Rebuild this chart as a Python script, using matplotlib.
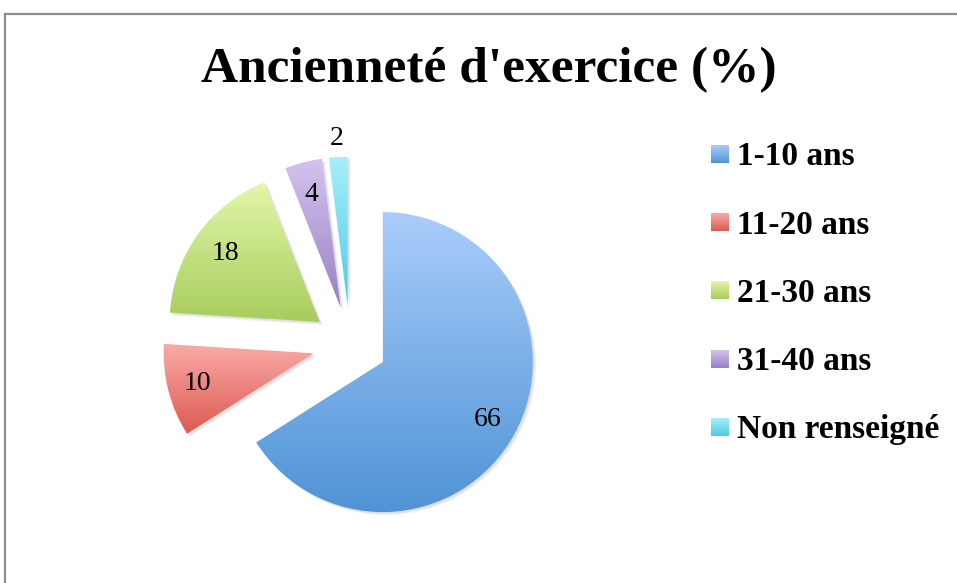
import numpy as np
import matplotlib
matplotlib.use("Agg")
import matplotlib.pyplot as plt
from matplotlib.patches import Rectangle, PathPatch
from matplotlib.path import Path
from matplotlib.colors import LinearSegmentedColormap

# Data
categories = ["1-10 ans", "11-20 ans", "21-30 ans", "31-40 ans", "Non renseigné"]
values = [66, 10, 18, 4, 2]
title = "Ancienneté d'exercice (%)"

# Gradient colours (top, bottom) for each slice
top_colors = ["#a9cdfa", "#f9aaa6", "#e2f7a9", "#d3c3ee", "#a5effb"]
bottom_colors = ["#4f93d6", "#dc5a52", "#a8cc5c", "#9a80c4", "#4ecbe1"]
label_dist = [0.80, 0.80, 0.78, 0.78, 1.12]

W, H, DPI = 957, 583, 100
fig = plt.figure(figsize=(W / DPI, H / DPI), dpi=DPI)
fig.patch.set_facecolor("white")

# Outer frame (open to the right and bottom)
fig.add_artist(Rectangle((5 / W, -0.1), 1.2, (583 - 14) / H + 0.1,
                         transform=fig.transFigure, fill=False,
                         edgecolor="#8c8c8c", linewidth=1.6))

serif = ["Liberation Serif", "DejaVu Serif"]

fig.text(489 / W, 1 - 70 / H, title, ha="center", va="center",
         fontsize=37, fontweight="bold", family=serif)

# Pie axes: centre at (350, 344) px, radius 150 px
cx, cy, r_px = 350, 344, 150
half = 2 * r_px
ax = fig.add_axes([(cx - half) / W, (H - cy - half) / H, 2 * half / W, 2 * half / H])

wedges, _ = ax.pie(values, startangle=90, counterclock=False,
                   explode=[0.25] * len(values), radius=1,
                   wedgeprops=dict(linewidth=0, facecolor="none"))
ax.set_xlim(-2, 2)
ax.set_ylim(-2, 2)
ax.set_aspect("equal")
ax.axis("off")

grad = np.linspace(0, 1, 256).reshape(-1, 1)
for w, ct, cb, v, ld in zip(wedges, top_colors, bottom_colors, values, label_dist):
    path = w.get_path()
    # soft drop shadow slightly right and below
    for k, a in ((0.02, 0.10), (0.012, 0.14)):
        sp = Path(path.vertices + np.array([k, -k]), path.codes)
        ax.add_patch(PathPatch(sp, facecolor="#777777", edgecolor="none",
                               alpha=a, zorder=0.5))
    verts = path.vertices
    x0, x1 = verts[:, 0].min(), verts[:, 0].max()
    y0, y1 = verts[:, 1].min(), verts[:, 1].max()
    cmap = LinearSegmentedColormap.from_list("g", [ct, cb])
    im = ax.imshow(grad, cmap=cmap, extent=[x0, x1, y0, y1], origin="upper",
                   aspect="auto", zorder=1, interpolation="bilinear")
    im.set_clip_path(w)
    ang = np.deg2rad((w.theta1 + w.theta2) / 2)
    wx, wy = w.center
    ax.text(wx + ld * np.cos(ang), wy + ld * np.sin(ang), str(v),
            ha="center", va="center", fontsize=20, family=serif, zorder=3)
ax.set_xlim(-2, 2)
ax.set_ylim(-2, 2)

# Legend with gradient swatches
leg_x, leg_y0, leg_dy, sw = 711, 154, 68.2, 18
for i, (name, ct, cb) in enumerate(zip(categories, top_colors, bottom_colors)):
    yc = leg_y0 + i * leg_dy
    sax = fig.add_axes([leg_x / W, (H - yc - sw / 2) / H, sw / W, sw / H])
    sax.imshow(grad, cmap=LinearSegmentedColormap.from_list("s", [ct, cb]),
               aspect="auto", extent=[0, 1, 0, 1])
    sax.axis("off")
    fig.text((leg_x + sw + 8) / W, 1 - (yc + 3) / H, name, ha="left", va="center",
             fontsize=24, fontweight="bold", family=serif)

fig.savefig("out.png", dpi=DPI)
